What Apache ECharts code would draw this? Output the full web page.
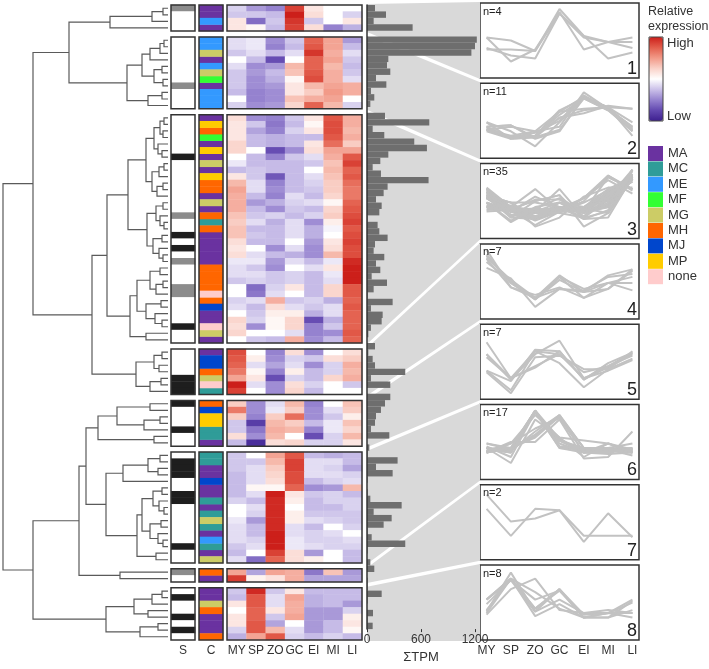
<!DOCTYPE html>
<html>
<head>
<meta charset="utf-8">
<script src="https://cdn.jsdelivr.net/npm/echarts@6/dist/echarts.min.js"></script>
<style>
  html, body { margin: 0; padding: 0; background: #fff; }
  #chart { width: 709px; height: 669px; }
</style>
</head>
<body>
<div id="chart"></div>
<script>
// stages (heatmap columns / line panel x axis)
var stages = ['MY', 'SP', 'ZO', 'GC', 'EI', 'MI', 'LI'];
// number of genes per cluster, top to bottom
var clusterSizes = [4, 11, 35, 7, 7, 17, 2, 8];

var categories = ['MA', 'MC', 'ME', 'MF', 'MG', 'MH', 'MJ', 'MP', 'none'];
var categoryColors = ['#6a32a0', '#2f9c98', '#3399ff', '#33ff33', '#cccc66', '#ff6600', '#0046cc', '#ffcc00', '#ffcccc'];

// S column: 0 = white, 1 = black, 2 = grey
var sColumn = [
  2, 0, 0, 0,
  0, 0, 0, 0, 0, 0, 0, 2, 0, 0, 0,
  0, 0, 0, 0, 0, 0, 1, 0, 0, 0, 0, 0, 0, 0, 0, 2, 0, 0, 1, 0, 1, 0, 2, 0, 0, 0, 2, 2, 0, 0, 0, 0, 1, 0, 0,
  0, 0, 0, 0, 1, 1, 1,
  1, 0, 0, 0, 1, 0, 0,
  0, 1, 1, 1, 0, 0, 1, 1, 0, 0, 0, 0, 0, 0, 1, 0, 0,
  2, 0,
  0, 1, 0, 0, 1, 0, 1, 0
];
var sColors = ['#ffffff', '#1e1e1e', '#8c8c8c'];

// C column categories
var cColumn = [
  'MA', 'MA', 'ME', 'MA',
  'ME', 'ME', 'MG', 'MA', 'ME', 'MG', 'MF', 'MA', 'ME', 'ME', 'ME',
  'MA', 'MP', 'MH', 'MF', 'MA', 'MP', 'MA', 'MG', 'MA', 'MP', 'MH', 'MH', 'MA', 'MG', 'MA', 'MH', 'MC', 'MH',
  'MA', 'MA', 'MA', 'MA', 'MA', 'MH', 'MH', 'MH', 'MH', 'none', 'MH', 'MJ', 'MA', 'MA', 'none', 'MG', 'MA',
  'MA', 'MJ', 'MJ', 'MH', 'MG', 'none', 'MC',
  'MH', 'MJ', 'MP', 'MP', 'MC', 'MC', 'MA',
  'MC', 'MC', 'MA', 'MA', 'MJ', 'MA', 'MA', 'MC', 'MA', 'MC', 'MG', 'MC', 'MA', 'ME', 'MC', 'MA', 'MG',
  'MH', 'MA',
  'MA', 'MA', 'MG', 'MH', 'MA', 'MA', 'MA', 'MH'
];

// summed TPM per gene
var tpm = [
  89, 211, 74, 507,
  1220, 1200, 1160, 237, 222, 259, 100, 215, 44, 81, 37,
  200, 692, 63, 192, 525, 666, 237, 148, 63, 155, 684, 229, 185, 100, 163, 137, 7, 118,
  137, 229, 89, 74, 192, 100, 148, 52, 222, 74, 7, 285, 44, 174, 163, 44, 15,
  89, 15, 63, 89, 425, 44, 259,
  259, 200, 155, 100, 89, 44, 248,
  26, 7, 340, 100, 285, 7, 0, 7, 37, 385, 74, 274, 185, 7, 52, 425, 7,
  37, 81,
  7, 7, 163, 7, 0, 67, 7, 63
];

// relative expression (row scaled), columns MY SP ZO GC EI MI LI
var expression = [
  // cluster 1
  [-0.4, -0.9, -1.1, 1.9, 0.3, 0.0, 0.0],
  [-0.5, -0.5, -0.6, 2.2, 0.4, 0.0, -0.4],
  [0.3, -1.3, -0.5, 2.0, -0.5, 0.0, 0.3],
  [0.3, 0.1, -0.6, 1.9, 0.4, -1.1, -0.7],
  // cluster 2
  [-0.3, -0.2, -1.0, -0.5, 1.6, 1.0, -0.9],
  [-0.3, -0.2, -1.1, -0.6, 1.7, 1.0, -0.6],
  [-0.5, -0.3, -0.6, -0.3, 2.0, 0.9, -0.3],
  [0.0, -0.6, -1.6, 0.0, 1.6, 1.0, -0.5],
  [-0.3, -1.0, -0.9, 0.8, 1.6, 0.8, -0.6],
  [-0.5, -0.9, -0.6, 0.7, 1.7, 0.9, -0.5],
  [-0.5, -1.0, -0.7, 0.1, 1.8, 0.9, -0.3],
  [-0.5, -1.0, -0.9, 0.3, 0.8, 1.0, 0.9],
  [-0.6, -1.1, -1.0, 0.3, 0.6, 1.1, 0.9],
  [0.0, -1.1, -1.0, 0.7, 0.9, 1.0, 0.0],
  [-0.4, -1.0, -0.9, 0.5, 1.6, 0.8, -0.4],
  // cluster 3
  [0.4, -1.0, -1.1, -0.5, 0.3, 1.7, 0.9],
  [0.3, -0.5, -1.2, -0.6, 0.1, 1.8, 0.9],
  [0.3, -0.8, -1.1, -0.4, 0.3, 1.8, 0.8],
  [0.3, -0.6, -0.7, -0.6, -0.6, 1.7, 0.9],
  [0.5, -0.6, -0.7, -0.6, 0.3, 1.5, 0.6],
  [0.5, 0.0, -1.6, -1.0, 0.4, 1.0, 1.0],
  [0.0, -0.6, -1.1, -0.5, -0.3, 0.9, 1.7],
  [-0.2, -0.6, -0.6, -0.6, -0.5, 0.7, 1.9],
  [-0.6, -0.5, -0.6, -0.6, 0.0, 0.8, 1.6],
  [0.3, -0.5, -1.5, -0.6, -0.3, 0.7, 1.7],
  [0.8, -0.3, -1.1, -0.6, -0.4, 0.6, 1.5],
  [1.0, -0.3, -1.0, -0.6, -0.5, 0.6, 1.4],
  [0.9, -0.6, -1.1, -0.3, -0.6, 0.5, 1.4],
  [0.9, -0.9, -0.7, -0.4, -0.3, 0.1, 1.6],
  [0.9, -0.6, -1.0, -0.5, -0.6, 0.5, 1.7],
  [0.7, -0.5, -0.4, -0.6, -0.4, 0.6, 1.8],
  [0.6, -0.3, -0.7, -0.3, -1.0, 0.2, 1.9],
  [0.7, -0.6, -0.6, -0.3, -0.7, -0.1, 1.7],
  [0.7, -0.5, -0.6, -0.3, -0.7, 0.0, 1.8],
  [0.4, -0.6, -0.6, 0.0, -0.9, 0.3, 1.9],
  [0.3, 0.0, -1.0, -0.3, -1.0, 0.4, 1.8],
  [0.4, -0.3, -0.6, -0.7, -1.0, 0.8, 1.8],
  [-0.2, -0.2, -0.9, -0.3, -0.6, -0.2, 2.1],
  [-0.3, -0.5, -1.0, 0.0, -0.3, 0.3, 2.2],
  [-0.3, -0.3, -0.5, -0.4, -0.6, -0.2, 2.2],
  [-0.5, -0.4, -0.5, -0.4, -0.6, -0.3, 2.2],
  [0.0, -1.3, -0.4, 0.3, -0.6, 0.5, 1.7],
  [0.0, -1.2, -0.3, 0.0, -0.6, 0.5, 1.7],
  [-0.4, -0.3, 0.9, -0.5, -0.4, -0.7, 1.6],
  [-0.3, -0.6, 0.4, -0.3, -0.5, -0.3, 1.7],
  [0.0, -0.5, 0.2, 0.2, -0.7, -0.3, 1.6],
  [0.5, -0.4, 0.1, 0.5, -1.6, -0.7, 1.6],
  [0.4, -1.0, 0.1, 0.5, -1.1, -0.5, 1.6],
  [0.5, 0.0, 0.0, -0.3, -1.1, -1.0, 1.7],
  [0.0, -0.5, -0.6, 0.9, -1.0, -0.6, 1.6],
  // cluster 4
  [1.8, 0.0, -1.1, 0.4, -1.0, 0.0, 0.4],
  [1.7, 0.2, -1.0, -0.4, -0.5, 0.4, 0.6],
  [1.6, -0.3, -0.8, -0.3, -1.0, -0.4, 0.9],
  [1.4, 0.1, -1.1, 0.2, -0.6, -0.4, 0.8],
  [1.0, 0.3, -1.6, -0.4, -0.6, 0.5, 0.9],
  [2.2, -0.3, -1.0, 0.4, -0.4, 0.0, -0.5],
  [1.9, 0.0, -1.0, 0.5, -0.6, 0.0, 0.0],
  // cluster 5
  [0.6, -1.0, -0.3, 0.8, -1.1, 0.0, 0.7],
  [1.4, -1.0, -0.2, 0.6, -1.0, -0.3, 0.6],
  [0.6, -1.1, 0.6, 1.5, -1.0, -0.5, 0.2],
  [-0.5, -1.8, 0.8, 0.6, -0.6, -0.2, 0.7],
  [-0.5, -1.2, 0.9, 0.8, -1.1, -0.2, 0.5],
  [0.4, -1.0, 0.8, 0.0, -1.6, -0.4, 0.8],
  [-0.6, -2.0, 0.4, 0.5, -0.4, -0.4, 0.3],
  // cluster 6
  [-0.5, 0.0, 1.0, 1.7, -0.6, -0.7, -0.6],
  [-0.5, -0.5, 0.8, 1.9, -0.3, -0.3, -0.6],
  [-0.5, -0.3, 0.6, 1.9, -0.3, -0.4, -0.8],
  [-0.6, -0.3, 0.5, 1.8, -0.3, -0.3, -0.4],
  [-0.6, -0.3, 0.4, 1.8, -0.6, -0.4, -0.3],
  [-0.6, 0.1, 0.1, 1.6, -1.0, -0.9, 0.8],
  [-0.6, -0.3, 2.2, 0.3, -0.5, -0.4, -0.6],
  [-0.4, -0.6, 2.1, 0.2, -0.6, -0.4, -0.4],
  [0.0, -0.3, 2.1, 0.0, -0.6, -0.6, -0.4],
  [0.0, -0.4, 2.1, 0.2, -0.5, -0.5, -0.5],
  [-0.2, -0.9, 2.1, 0.2, -0.3, -0.4, -0.5],
  [-0.3, -0.6, 2.1, -0.3, -0.6, 0.0, -0.4],
  [-0.3, -0.6, 2.2, -0.3, -0.4, -0.3, 0.0],
  [-0.3, -0.4, 2.2, -0.2, -0.4, -0.4, -0.3],
  [-0.5, -0.3, 2.2, -0.2, -0.3, -0.4, -0.4],
  [-0.6, 0.0, 1.9, 0.4, -0.9, 0.0, -0.6],
  [-0.3, -1.3, 1.6, 0.4, 0.2, 0.0, -0.6],
  // cluster 7
  [1.0, -0.8, 1.0, 0.9, -1.2, 0.7, -0.9],
  [1.95, 0.15, 0.35, 0.9, -0.8, -0.8, -0.8],
  // cluster 8
  [-0.5, 2.1, -0.5, 0.3, -0.6, -0.6, -0.6],
  [-0.6, 1.7, -0.3, 1.0, -0.7, -0.6, -0.6],
  [0.3, 1.7, -0.3, 0.9, -0.7, -0.6, -0.9],
  [0.0, 1.6, 0.3, 0.9, -0.9, -0.9, -0.4],
  [0.3, 1.6, -0.5, 1.0, -0.9, -0.9, 0.2],
  [0.3, 1.7, -0.8, 0.0, -0.9, -0.6, 0.3],
  [-0.4, 1.7, 0.8, -0.3, -0.9, -0.6, 0.1],
  [-0.7, 1.0, 1.7, -0.4, -0.6, -0.4, -0.6]
];

// dendrogram: [height, left, right], leaves are row numbers
var tree1 = [58, [16, [5, 0, 1], 2], 3];
var tree2 = [41, [26, [18, [8, [4, 4, 5], 6], 7], [14, [6, 8, 9], [5, 10, 11]]], [20, [6, 12, 13], 14]];
var tree3 = [61,
  [40,
    [22, [14, [8, [4, 15, 16], [5, 17, 18]], [10, 19, [6, 20, 21]]], [16, [9, [4, 22, 23], 24], [11, [5, 25, 26], 27]]],
    [21, [12, [5, 28, 29], [8, 30, [4, 31, 32]]], [15, [6, 33, 34], [9, 35, [5, 36, 37]]]]],
  [38,
    [31, [18, [8, 38, 39], [12, [5, 40, 41], 42]], [22, [7, 43, 44], [13, 45, [6, 46, 47]]]],
    [22, 48, 49]]];
var tree4 = [32, [14, [6, 50, 51], [9, 52, 53]], [18, [7, 54, 55], 56]];
var tree5 = [70, [51, [18, 57, 58], [24, [8, 59, 60], 61]], [14, 62, 63]];
var tree6 = [62, [45, [20, [8, 64, 65], [10, 66, 67]], 68],
  [31, [26, [15, [6, 69, 70], [9, 71, [4, 72, 73]]], [18, [7, 74, 75], [10, 76, [5, 77, 78]]]], [12, 79, 80]]];
var tree7 = [48, 81, 82];
var tree8 = [62, [34, [16, [6, 83, 84], 85], [20, 86, 87]], [28, [10, 88, 89], 90]];
var tree = [165, [135, [99, tree1, tree2], [76, tree3, tree4]], [135, [89, [82, tree5, tree6], tree7], tree8]];

// ---- layout ----
var GAP = 0.9;          // gap between cluster blocks, in rows
var TOP = 5, HEIGHT = 635;
var PANEL_TOP = 3, PANEL_PITCH = 80.3, PANEL_H = 75;
var FONT = 'Liberation Sans';

var nRows = expression.length;
var UNITS = nRows + GAP * (clusterSizes.length - 1);
var rowStart = [], rowCluster = [], clusterRange = [];
var r0 = 0;
clusterSizes.forEach(function (n, k) {
  var s = r0 + k * GAP;
  clusterRange.push([s, s + n]);
  for (var i = 0; i < n; i++) { rowStart.push(s + i); rowCluster.push(k); }
  r0 += n;
});
function center(r) { return rowStart[r] + 0.5; }
function panelTop(k) { return PANEL_TOP + k * PANEL_PITCH; }

// dendrogram segments
var dendroSegs = [];
function walk(node) {
  if (typeof node === 'number') return { y: center(node), h: 0 };
  var L = walk(node[1]), R = walk(node[2]);
  dendroSegs.push([node[0], L.y, R.y, L.h, R.h]);
  return { y: (L.y + R.y) / 2, h: node[0] };
}
walk(tree);

var chart = echarts.init(document.getElementById('chart'));

var grids = [
  { left: 3, width: 165, top: TOP, height: HEIGHT },      // 0 dendrogram
  { left: 171, width: 24, top: TOP, height: HEIGHT },     // 1 S
  { left: 199, width: 24, top: TOP, height: HEIGHT },     // 2 C
  { left: 227, width: 135, top: TOP, height: HEIGHT },    // 3 heatmap
  { left: 367, width: 108, top: TOP, height: HEIGHT },    // 4 bars
  { left: 367, width: 113, top: 0, height: 669 }          // 5 wedges
];
var rowAxis = function (i) {
  return { gridIndex: i, type: 'value', min: 0, max: UNITS, inverse: true, show: false };
};
var labelStyle = { fontSize: 12, color: '#333', margin: 5, fontFamily: FONT, interval: 0 };
var xAxes = [
  { gridIndex: 0, type: 'value', min: 0, max: 165, inverse: true, show: false },
  { gridIndex: 1, type: 'category', data: ['S'], axisLine: { show: false }, axisTick: { show: false }, axisLabel: labelStyle },
  { gridIndex: 2, type: 'category', data: ['C'], axisLine: { show: false }, axisTick: { show: false }, axisLabel: labelStyle },
  { gridIndex: 3, type: 'category', data: stages, axisLine: { show: false }, axisTick: { show: false }, axisLabel: labelStyle },
  { gridIndex: 4, type: 'value', min: 0, max: 1200, interval: 600, z: 20, position: 'bottom', splitLine: { show: false },
    axisLine: { show: false, onZero: false }, axisTick: { show: true, length: 3, lineStyle: { color: '#333' } },
    axisLabel: { fontSize: 12, color: '#333', margin: 5, fontFamily: FONT, hideOverlap: false,
      formatter: function (v) { return String(v); } },
    name: 'ΣTPM', nameLocation: 'middle', nameGap: 18, nameTextStyle: { fontSize: 13, color: '#333', fontFamily: FONT } },
  { gridIndex: 5, type: 'value', min: 0, max: 1, show: false }
];
var yAxes = [rowAxis(0), rowAxis(1), rowAxis(2), rowAxis(3),
  { gridIndex: 4, type: 'value', min: 0, max: UNITS, inverse: true, z: 20, axisLabel: { show: false }, axisTick: { show: false },
    splitLine: { show: false }, axisLine: { show: true, onZero: false, lineStyle: { color: '#333', width: 1.5 } } },
  { gridIndex: 5, type: 'value', min: 0, max: 669, inverse: true, show: false }
];

clusterSizes.forEach(function (n, k) {
  grids.push({ left: 480, width: 159, top: panelTop(k), height: PANEL_H, show: true,
    borderColor: '#333', borderWidth: 1.5, backgroundColor: '#fff' });
  xAxes.push({ gridIndex: 6 + k, type: 'value', min: -0.27, max: 6.27, splitLine: { show: false },
    axisLine: { show: false }, axisTick: { show: false },
    axisLabel: { show: k === clusterSizes.length - 1, customValues: [0, 1, 2, 3, 4, 5, 6],
      formatter: function (v) { return stages[Math.round(v)]; }, fontSize: 12, color: '#333', margin: 5, fontFamily: FONT } });
  yAxes.push({ gridIndex: 6 + k, type: 'value', min: -2.4, max: 2.6, show: false });
});

function cellRect(api, w) {
  var p = api.coord([api.value(0), api.value(1)]);
  var h = Math.abs(api.size([0, 1])[1]);
  return { x: p[0] - w / 2, y: p[1] - h / 2 - 0.2, width: w + 0.3, height: h + 0.4 };
}

function borderSeries(idx) {
  return {
    type: 'custom', xAxisIndex: idx, yAxisIndex: idx, silent: true, z: 6,
    data: clusterRange.map(function (c) { return [0, c[0], c[1]]; }),
    encode: { x: 0, y: [1, 2] },
    renderItem: function (params, api) {
      var cs = params.coordSys;
      var y0 = api.coord([0, api.value(1)])[1], y1 = api.coord([0, api.value(2)])[1];
      return { type: 'rect', shape: { x: cs.x, y: y0, width: cs.width, height: y1 - y0 },
        style: { fill: null, stroke: '#333', lineWidth: 1.5 } };
    }
  };
}

var heatData = [];
expression.forEach(function (row, r) {
  row.forEach(function (v, c) { heatData.push([c, center(r), v]); });
});

var series = [];
// 0: heatmap
series.push({
  type: 'custom', xAxisIndex: 3, yAxisIndex: 3, silent: true, data: heatData, encode: { x: 0, y: 1 },
  renderItem: function (params, api) {
    var w = api.size([1, 0])[0];
    return { type: 'rect', shape: cellRect(api, w), style: { fill: api.visual('color') } };
  }
});
// dendrogram
series.push({
  type: 'custom', xAxisIndex: 0, yAxisIndex: 0, silent: true, data: dendroSegs, encode: { x: [0, 3, 4], y: [1, 2] },
  renderItem: function (params, api) {
    var h = api.value(0), yl = api.value(1), yr = api.value(2);
    var pts = [api.coord([api.value(3), yl]), api.coord([h, yl]), api.coord([h, yr]), api.coord([api.value(4), yr])];
    return { type: 'polyline', shape: { points: pts }, style: { stroke: '#5a5a5a', lineWidth: 1.2, fill: null } };
  }
});
// S column
series.push({
  type: 'custom', xAxisIndex: 1, yAxisIndex: 1, silent: true,
  data: sColumn.map(function (s, r) { return [0, center(r), s]; }), encode: { x: 0, y: 1 },
  renderItem: function (params, api) {
    var w = api.size([1, 0])[0];
    return { type: 'rect', shape: cellRect(api, w), style: { fill: sColors[api.value(2)] } };
  }
});
// C column, one series per category (feeds the legend)
categories.forEach(function (cat, i) {
  var d = [];
  cColumn.forEach(function (c, r) { if (c === cat) d.push([0, center(r)]); });
  series.push({
    type: 'custom', name: cat, xAxisIndex: 2, yAxisIndex: 2, silent: true, data: d, encode: { x: 0, y: 1 },
    itemStyle: { color: categoryColors[i] },
    renderItem: function (params, api) {
      var w = api.size([1, 0])[0];
      return { type: 'rect', shape: cellRect(api, w), style: { fill: api.visual('color') } };
    }
  });
});
series.push(borderSeries(1), borderSeries(2), borderSeries(3));

// grey wedges linking clusters to panels
var pxPerUnit = HEIGHT / UNITS;
series.push({
  type: 'custom', xAxisIndex: 5, yAxisIndex: 5, silent: true, z: 1,
  data: clusterRange.map(function (c, k) {
    return [TOP + c[0] * pxPerUnit - 1, TOP + c[1] * pxPerUnit + 1, panelTop(k) - 1, panelTop(k) + PANEL_H + 1];
  }),
  encode: { y: [0, 1, 2, 3] },
  renderItem: function (params, api) {
    var pts = [api.coord([0, api.value(0)]), api.coord([1, api.value(2)]),
               api.coord([1, api.value(3)]), api.coord([0, api.value(1)])];
    return { type: 'polygon', shape: { points: pts }, style: { fill: '#d9d9d9' } };
  }
});
// TPM bars
series.push({
  type: 'custom', xAxisIndex: 4, yAxisIndex: 4, silent: true, z: 4,
  data: tpm.map(function (v, r) { return [v, rowStart[r], rowStart[r] + 1]; }),
  encode: { x: 0, y: [1, 2] },
  renderItem: function (params, api) {
    var a = api.coord([0, api.value(1)]), b = api.coord([api.value(0), api.value(2)]);
    return { type: 'rect', shape: { x: a[0], y: a[1], width: b[0] - a[0], height: b[1] - a[1] },
      style: { fill: '#6e6e6e' } };
  }
});
// profile lines in the cluster panels
expression.forEach(function (row, r) {
  var k = rowCluster[r];
  series.push({
    type: 'line', xAxisIndex: 6 + k, yAxisIndex: 6 + k, silent: true, symbol: 'none', z: 3,
    data: row.map(function (v, c) { return [c, v]; }),
    lineStyle: { color: '#c2c2c2', width: 2 }
  });
});

var graphics = [
  { type: 'text', x: 648, y: 4, style: { text: 'Relative\nexpression', font: '12.5px ' + FONT, lineHeight: 15, fill: '#333', verticalAlign: 'top' } },
  { type: 'text', x: 667, y: 43, style: { text: 'High', font: '13px ' + FONT, fill: '#333', verticalAlign: 'middle' } },
  { type: 'text', x: 667, y: 116, style: { text: 'Low', font: '13px ' + FONT, fill: '#333', verticalAlign: 'middle' } },
  { type: 'rect', shape: { x: 649, y: 37, width: 14, height: 84 }, style: { fill: null, stroke: '#444', lineWidth: 1 }, z: 100 }
];
clusterSizes.forEach(function (n, k) {
  graphics.push({ type: 'text', x: 483, y: panelTop(k) + 3,
    style: { text: 'n=' + n, font: '11px ' + FONT, fill: '#222', verticalAlign: 'top' }, z: 100 });
  graphics.push({ type: 'text', x: 637, y: panelTop(k) + PANEL_H,
    style: { text: String(k + 1), font: '18px ' + FONT, fill: '#222', align: 'right', verticalAlign: 'bottom' }, z: 100 });
});

chart.setOption({
  animation: false,
  textStyle: { fontFamily: FONT },
  grid: grids,
  xAxis: xAxes,
  yAxis: yAxes,
  visualMap: {
    type: 'continuous', seriesIndex: 0, dimension: 2, min: -2.2, max: 2.2,
    left: 649, top: 37, itemWidth: 14, itemHeight: 84, padding: 0, calculable: false,
    inRange: { color: ['#3d1f8f', '#6248b0', '#9582cf', '#cbc1e9', '#ffffff', '#fad2c9', '#f29a88', '#e35e4c', '#cc1f1a'] }
  },
  legend: {
    data: categories, orient: 'vertical', left: 648, top: 146, icon: 'rect',
    itemWidth: 15, itemHeight: 15, itemGap: 0.4, padding: 0, selectedMode: false,
    textStyle: { fontSize: 13, color: '#333', lineHeight: 15, fontFamily: FONT }
  },
  graphic: graphics,
  series: series
});
</script>
</body>
</html>
